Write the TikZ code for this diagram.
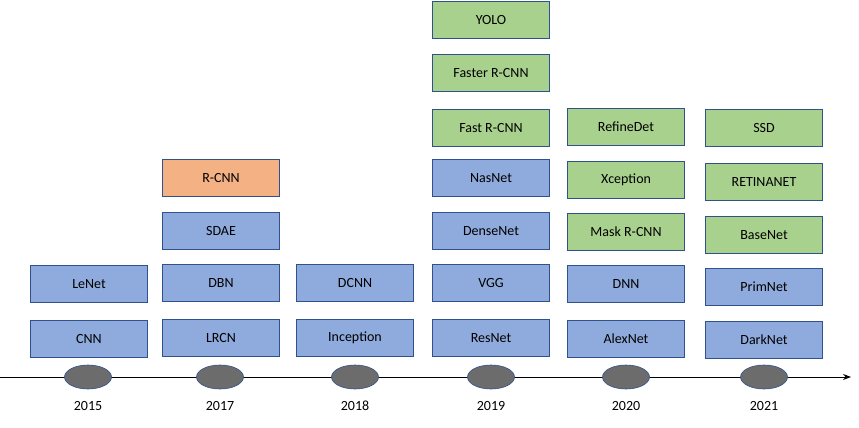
\documentclass[tikz,border=0pt]{standalone}
\usepackage{fontspec}
\setmainfont{Carlito}
\usetikzlibrary{positioning, arrows.meta}
\definecolor{boxblue}{RGB}{143,170,220}
\definecolor{boxgreen}{RGB}{169,209,142}
\definecolor{boxorange}{RGB}{244,177,131}
\definecolor{boxline}{RGB}{47,82,143}
\tikzset{
	model/.style={
		draw=boxline,
		line width=0.8pt,
		minimum width=117pt,
		minimum height=37pt,
		align=center,
		font={\fontsize{14}{16}\selectfont}
	},
	cnn/.style={model, fill=boxblue},
	det/.style={model, fill=boxgreen},
	first/.style={model, fill=boxorange},
	tick/.style={
		ellipse, fill=gray!85!black, draw=boxline, line width=0.6pt,
		minimum width=47pt, minimum height=24pt, inner sep=0pt
	},
	year/.style={font={\fontsize{14}{16}\selectfont}}
}
\usetikzlibrary{shapes.geometric}
\begin{document}
\begin{tikzpicture}[x=1pt,y=-1pt]
\useasboundingbox (0,0) rectangle (859,428);

% time axis
\coordinate (start) at (0,377);
\coordinate (end) at (851,377);
\draw[-{Stealth[length=8pt]}, line width=1pt] (start) -- (end);

% years
\foreach \yr/\xx in {2015/88, 2017/220, 2018/355, 2019/491, 2020/626, 2021/764} {
	\node(t\yr)[tick] at (\xx,377) {};
	\node(y\yr)[year] at (\xx,406) {\yr};
};

% 2015
\node(cnn)[cnn] at (89,339) {CNN};
\node(lenet)[cnn] at (89,284) {LeNet};

% 2017
\node(lrcn)[cnn] at (221,338) {LRCN};
\node(dbn)[cnn] at (221,283) {DBN};
\node(sdae)[cnn] at (221,231) {SDAE};
\node(rcnn)[first] at (221,178) {R-CNN};

% 2018
\node(inception)[cnn] at (355,338) {Inception};
\node(dcnn)[cnn] at (355,283) {DCNN};

% 2019
\node(resnet)[cnn] at (491,338) {ResNet};
\node(vgg)[cnn] at (491,283) {VGG};
\node(densenet)[cnn] at (491,231) {DenseNet};
\node(nasnet)[cnn] at (491,178) {NasNet};
\node(fastrcnn)[det] at (491,128) {Fast R-CNN};
\node(fasterrcnn)[det] at (491,73) {Faster R-CNN};
\node(yolo)[det] at (491,20) {YOLO};

% 2020
\node(alexnet)[cnn] at (626,339) {AlexNet};
\node(dnn)[cnn] at (626,284) {DNN};
\node(maskrcnn)[det] at (626,232) {Mask R-CNN};
\node(xception)[det] at (626,180) {Xception};
\node(refinedet)[det] at (626,127) {RefineDet};

% 2021
\node(darknet)[cnn] at (764,340) {DarkNet};
\node(primnet)[cnn] at (764,287) {PrimNet};
\node(basenet)[det] at (764,235) {BaseNet};
\node(retinanet)[det] at (764,182) {RETINANET};
\node(ssd)[det] at (764,128) {SSD};
\end{tikzpicture}
\end{document}
